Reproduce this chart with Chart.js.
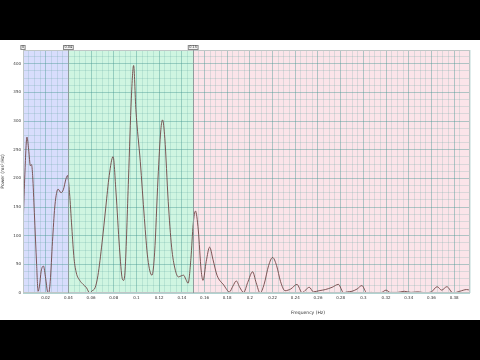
<!DOCTYPE html>
<html>
<head>
<meta charset="utf-8">
<script src="https://cdn.jsdelivr.net/npm/chart.js@4"></script>
<style>
  html, body { margin: 0; padding: 0; background: #000; }
  #wrap { position: absolute; left: 0; top: 40px; width: 480px; height: 280px; background: #fff; }
  #chart { position: absolute; left: 0; top: 0; }
  #xTitle { position: absolute; left: 258px; top: 270px; width: 100px; text-align: center;
            font: 4.5px "DejaVu Sans", sans-serif; color: #333; }
</style>
</head>
<body>
<div id="wrap">
  <canvas id="chart" width="480" height="280"></canvas>
  <div id="xTitle">Frequency (Hz)</div>
</div>
<script>
// spectrum
const freqs = [
  0.000, 0.0015, 0.0035, 0.005, 0.0065, 0.0075, 0.0085, 0.010, 0.012, 0.0133,
  0.0145, 0.016, 0.018, 0.020, 0.0215, 0.0226, 0.024, 0.026, 0.028, 0.030,
  0.031, 0.0335, 0.0355, 0.038, 0.0392, 0.041, 0.043, 0.045, 0.047, 0.050,
  0.053, 0.056, 0.0588, 0.061, 0.0635, 0.066, 0.0697, 0.073, 0.076, 0.0794,
  0.082, 0.085, 0.0875, 0.0887, 0.090, 0.093, 0.0955, 0.0975, 0.0995, 0.1034,
  0.107, 0.110, 0.1137, 0.116, 0.119, 0.1215, 0.123, 0.125, 0.128, 0.131,
  0.134, 0.137, 0.1395, 0.1416, 0.1435, 0.1455, 0.148, 0.150, 0.152, 0.1545,
  0.157, 0.1587, 0.1615, 0.1645, 0.1675, 0.171, 0.1769, 0.182, 0.185, 0.188,
  0.191, 0.1945, 0.198, 0.2024, 0.2055, 0.209, 0.2125, 0.2165, 0.220, 0.2235,
  0.227, 0.231, 0.236, 0.2415, 0.246, 0.2495, 0.2523, 0.256, 0.261, 0.2665,
  0.2725, 0.278, 0.2826, 0.286, 0.290, 0.2945, 0.2987, 0.303, 0.307, 0.311,
  0.316, 0.320, 0.3235, 0.330, 0.336, 0.342, 0.348, 0.354, 0.360, 0.365,
  0.369, 0.3736, 0.379, 0.385, 0.391, 0.394
];
const power = [
  110, 200, 272, 250, 222, 224, 205, 140, 50, 3,
  12, 38, 47, 25, 3, 0, 20, 90, 150, 178,
  181, 175, 180, 200, 205, 175, 115, 60, 35, 22,
  15, 9, 0, 4, 9, 30, 88, 150, 205, 238,
  175, 80, 25, 22, 40, 200, 340, 397, 320, 229,
  130, 60, 31, 70, 200, 285, 302, 270, 160, 80,
  42, 28, 30, 31, 24, 17, 60, 120, 143, 110,
  40, 22, 55, 80, 58, 31, 14, 2, 12, 21,
  10, 1, 18, 37, 18, 0, 15, 48, 62, 48,
  20, 4, 7, 15, 0.5, 6, 10, 2, 4, 6,
  10, 15, 0.5, 2, 3, 7, 13, 0.5, 1, 0.5,
  1, 5, 1, 1, 3, 1, 2, 0.5, 2, 11,
  5, 11, 0, 3, 6, 5
];
// VLF / LF / HF band edges and their marker labels
const bandEdges = [0, 0.04, 0.15, 0.394];
const bandLabels = ["0", "0.04", "0.15"];
const bandColors = ["#d8ddfc", "#cff5e1", "#fbe4e9"];
const yMax = 424;

const isMajorX = v => Math.round(v * 1000) % 20 === 0;
const isMajorY = v => Math.round(v * 10) % 500 === 0;
const majorGrid = "rgba(70,150,145,0.42)";
const minorGrid = "rgba(90,160,155,0.2)";

const bandPlugin = {
  id: "bands",
  beforeDraw(chart) {
    const { ctx, chartArea: a, scales: { x } } = chart;
    ctx.save();
    for (let i = 0; i < 3; i++) {
      const x0 = x.getPixelForValue(bandEdges[i]);
      const x1 = x.getPixelForValue(bandEdges[i + 1]);
      ctx.fillStyle = bandColors[i];
      ctx.fillRect(x0, a.top, x1 - x0, a.bottom - a.top);
    }
    ctx.restore();
  },
  afterDraw(chart) {
    const { ctx, chartArea: a, scales: { x } } = chart;
    ctx.save();
    ctx.strokeStyle = "#c0c6c6";
    ctx.lineWidth = 1;
    ctx.strokeRect(a.left + 0.5, a.top + 0.5, a.right - a.left - 1, a.bottom - a.top - 1);
    ctx.strokeStyle = "#909c9c";
    [1, 2].forEach(i => {
      const px = Math.round(x.getPixelForValue(bandEdges[i])) + 0.5;
      ctx.beginPath(); ctx.moveTo(px, a.top); ctx.lineTo(px, a.bottom); ctx.stroke();
    });
    // little edge markers above the plot
    ctx.font = "3.5px 'DejaVu Sans', sans-serif";
    ctx.textAlign = "center";
    ctx.textBaseline = "middle";
    bandLabels.forEach((t, i) => {
      const px = x.getPixelForValue(bandEdges[i]);
      const w = Math.max(5, ctx.measureText(t).width + 3);
      ctx.fillStyle = "#f4f4f4";
      ctx.fillRect(px - w / 2, a.top - 5, w, 5);
      ctx.strokeStyle = "#888";
      ctx.strokeRect(px - w / 2 + 0.5, a.top - 4.5, w - 1, 4);
      ctx.fillStyle = "#333";
      ctx.fillText(t, px, a.top - 2.5);
    });
    ctx.restore();
  }
};

new Chart(document.getElementById("chart"), {
  type: "line",
  data: {
    datasets: [{
      data: freqs.map((f, i) => ({ x: f, y: power[i] })),
      borderColor: "#704545",
      borderWidth: 0.9,
      pointRadius: 0,
      fill: false,
      cubicInterpolationMode: "monotone"
    }]
  },
  options: {
    responsive: false,
    animation: false,
    devicePixelRatio: 1,
    layout: { padding: { top: 10, right: 10, left: 0, bottom: 0 } },
    plugins: { legend: { display: false }, tooltip: { enabled: false } },
    scales: {
      x: {
        type: "linear",
        min: 0,
        max: bandEdges[3],
        afterFit: s => { s.height = 27; },
        border: { display: false },
        grid: {
          color: c => isMajorX(c.tick.value) ? majorGrid : minorGrid,
          lineWidth: 1,
          drawTicks: false
        },
        ticks: {
          stepSize: 0.005,
          autoSkip: false,
          maxRotation: 0,
          padding: 3,
          color: "#333",
          font: { size: 4, family: "DejaVu Sans" },
          callback: v => (v > 0 && isMajorX(v) && Math.round(v * 1000) < 394) ? String(+v.toFixed(2)) : ""
        }
      },
      y: {
        min: 0,
        max: yMax,
        afterFit: s => { s.width = 23; },
        border: { display: false },
        grid: {
          color: c => isMajorY(c.tick.value) ? majorGrid : minorGrid,
          lineWidth: 1,
          drawTicks: false
        },
        ticks: {
          stepSize: 12.5,
          autoSkip: false,
          padding: 2,
          color: "#333",
          font: { size: 4, family: "DejaVu Sans" },
          callback: v => (isMajorY(v) && v <= 400) ? String(v) : ""
        },
        title: {
          display: true,
          text: "Power (ms²/Hz)",
          color: "#333",
          padding: 0,
          font: { size: 4.5, family: "DejaVu Sans" }
        }
      }
    }
  },
  plugins: [bandPlugin]
});
</script>
</body>
</html>
